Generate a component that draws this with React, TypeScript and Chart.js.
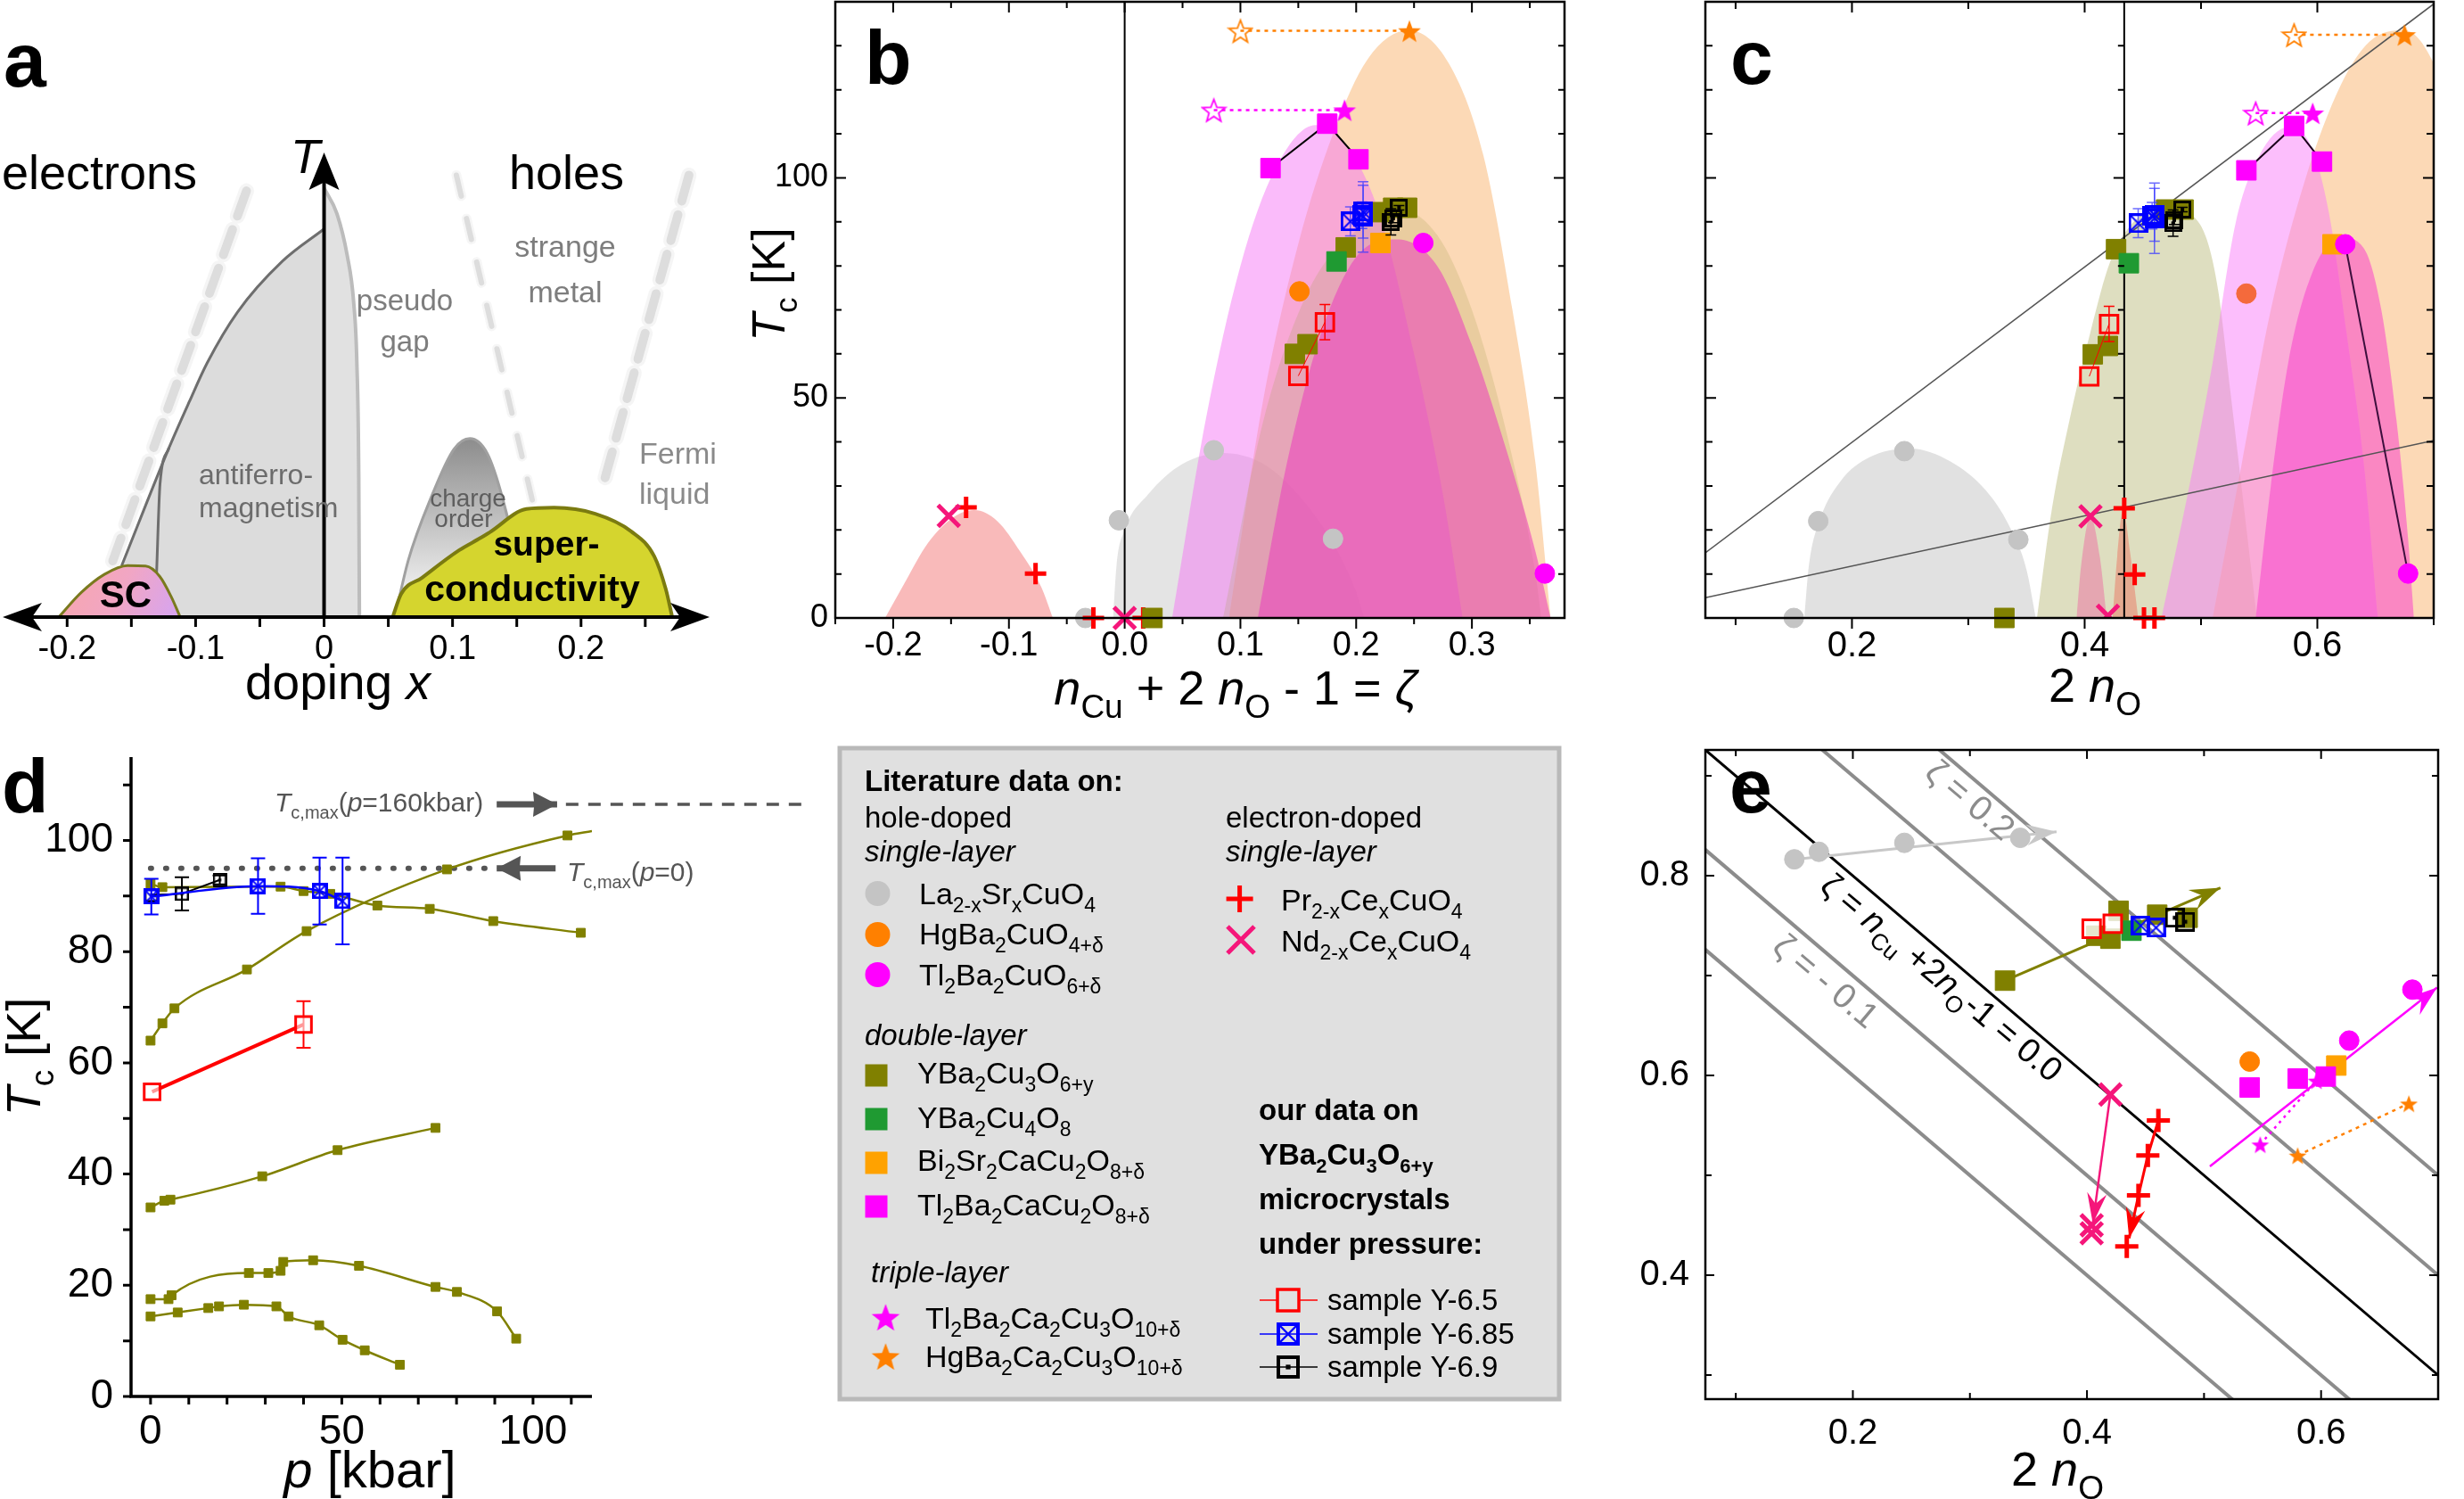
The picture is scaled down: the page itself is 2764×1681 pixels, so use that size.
import React, { useEffect, useRef } from "react";
import { Chart, registerables } from "chart.js";

Chart.register(...registerables);

const FONT = '"Liberation Sans", Arial, Helvetica, sans-serif';

/* ---------------- colours ---------------- */
const OLIVE = "#808000";
const GREEN = "#1f9a32";
const ORANGE = "#ff8000";
const ORANGE_SQ = "#ffa200";
const MAGENTA = "#ff00ff";
const LGRAY = "#c4c4c4";
const RED = "#ff0000";
const PINK = "#f5167a";
const BLUE = "#0000ff";
const DARK = "#555555";

/* ---------------- panel a : schematic (doping x, T arb.) ---------------- */
const A_AFM = [[-0.1575, 0.111], [-0.1207, 0.365], [-0.1048, 0.465], [-0.091, 0.548], [-0.0673, 0.658], [-0.0326, 0.767], [0, 0.837]];
const A_AFM_INNER = [[-0.1305, 0.085], [-0.1277, 0.287], [-0.1207, 0.365]];
const A_PSEUDOGAP = [[0, 0.925], [0.01, 0.87], [0.018, 0.78], [0.023, 0.68], [0.0255, 0.55], [0.027, 0.3], [0.0275, 0]];
const A_SC_ELECTRON = [[-0.2065, 0], [-0.189, 0.053], [-0.171, 0.092], [-0.153, 0.111], [-0.139, 0.11], [-0.128, 0.088], [-0.119, 0.044], [-0.112, 0]];
const A_CHARGE_ORDER = [[0.0551, 0], [0.0656, 0.123], [0.083, 0.256], [0.101, 0.362], [0.1135, 0.385], [0.127, 0.353], [0.139, 0.256], [0.15, 0.123], [0.157, 0]];
const A_SC_HOLE = [[0.0534, 0], [0.06, 0.05], [0.0763, 0.085], [0.105, 0.144], [0.122, 0.171], [0.129, 0.183], [0.1575, 0.233], [0.179, 0.236], [0.211, 0.223], [0.239, 0.185], [0.257, 0.131], [0.266, 0.06], [0.271, 0]];
const A_CROSS_LEFT = [[-0.0604, 0.919], [-0.1645, 0.121]];
const A_CROSS_MID = [[0.103, 0.953], [0.1625, 0.247]];
const A_CROSS_RIGHT = [[0.284, 0.953], [0.2187, 0.3]];
const A_TICKS = [-0.2, -0.15, -0.1, -0.05, 0, 0.05, 0.1, 0.15, 0.2, 0.25];

/* ---------------- panel b : Tc vs zeta ---------------- */
const B_DOME_E = [[-0.207, 0], [-0.19, 8], [-0.17, 17], [-0.15, 22.5], [-0.13, 24.5], [-0.11, 22], [-0.09, 15], [-0.072, 7], [-0.062, 0]];
const B_DOME_LSCO = [[-0.01, 0], [-0.007, 12], [0.0, 20], [0.02, 28], [0.05, 35], [0.085, 37.5], [0.12, 35], [0.15, 28], [0.18, 17], [0.2, 6], [0.207, 0]];
const B_DOME_HG = [[0.09, 0], [0.12, 50], [0.15, 85], [0.18, 110], [0.21, 127], [0.245, 133.5], [0.28, 126], [0.31, 105], [0.335, 70], [0.355, 35], [0.368, 0]];
const B_DOME_TL2212 = [[0.041, 0], [0.07, 45], [0.1, 80], [0.13, 102], [0.165, 112], [0.19, 108], [0.22, 92], [0.25, 60], [0.275, 28], [0.292, 0]];
const B_DOME_YBCO = [[0.085, 0], [0.12, 45], [0.16, 75], [0.2, 88], [0.235, 93], [0.27, 87], [0.3, 70], [0.33, 42], [0.355, 10], [0.36, 0]];
const B_DOME_TL2201 = [[0.115, 0], [0.14, 35], [0.17, 65], [0.2, 82], [0.235, 86], [0.27, 80], [0.3, 62], [0.33, 38], [0.355, 15], [0.368, 0]];

const B_PCCO = [[-0.137, 25.1], [-0.077, 10.1], [-0.027, 0], [0.016, 0]];
const B_NCCO = [[-0.152, 23.2], [0.0, 0]];
const B_LSCO = [[-0.034, 0], [-0.005, 22.2], [0.077, 38.1], [0.18, 18]];
const B_YBCO = [[0.024, 0], [0.147, 60], [0.158, 62.2], [0.191, 84.2], [0.22, 92.2], [0.232, 93.2], [0.244, 93.2]];
const B_Y124 = [[0.183, 81]];
const B_BI2212 = [[0.221, 85.2]];
const B_HG1201 = [[0.151, 74.2]];
const B_TL2201 = [[0.258, 85.2], [0.363, 10.1]];
const B_TL2212 = [[0.126, 102.2], [0.175, 112.3], [0.202, 104.2]];
const B_TL2223_AMB = [[0.077, 115.4]];
const B_TL2223 = [[0.19, 115.4]];
const B_HG1223_AMB = [[0.1, 133.4]];
const B_HG1223 = [[0.246, 133.4]];
const B_Y65 = [[0.15, 55], [0.173, 67.2]];
const B_Y65_ERR = [0, 4];
const B_Y685 = [[0.195, 90.1], [0.205, 91.5], [0.206, 92.3], [0.206, 91.1]];
const B_Y685_ERR = [3.3, 3, 6, 8];
const B_Y69 = [[0.23, 90], [0.232, 90.8], [0.237, 93.2]];
const B_Y69_ERR = [3, 1, 0.5];

/* ---------------- panel c : Tc vs 2 nO ---------------- */
const C_DOME_LSCO = [[0.159, 0], [0.163, 12], [0.172, 22], [0.19, 31], [0.215, 36.5], [0.25, 38.5], [0.285, 35.5], [0.315, 29], [0.335, 21], [0.35, 11], [0.358, 0]];
const C_DOME_YBCO = [[0.359, 0], [0.372, 25], [0.387, 45], [0.405, 65], [0.422, 81], [0.444, 90.5], [0.47, 93.5], [0.49, 92], [0.505, 86], [0.515, 74], [0.525, 52], [0.537, 25], [0.548, 0]];
const C_DOME_NCCO = [[0.393, 0], [0.397, 12], [0.405, 23], [0.413, 14], [0.419, 0]];
const C_DOME_PCCO = [[0.424, 0], [0.428, 14], [0.433, 24.5], [0.439, 15], [0.446, 0]];
const C_DOME_HG = [[0.51, 0], [0.535, 35], [0.56, 70], [0.59, 100], [0.62, 121], [0.645, 131], [0.675, 133.5], [0.7, 126], [0.72, 110]];
const C_DOME_TL2212 = [[0.466, 0], [0.49, 30], [0.51, 58], [0.53, 90], [0.55, 105], [0.575, 111.5], [0.595, 107], [0.61, 92], [0.625, 65], [0.64, 35], [0.652, 0]];
const C_DOME_TL2201 = [[0.547, 0], [0.56, 30], [0.575, 58], [0.595, 78], [0.62, 86.5], [0.64, 84], [0.655, 70], [0.668, 45], [0.678, 18], [0.683, 0]];
const C_GUIDE_UPPER = [[0.074, 14.8], [0.7, 139.5]];
const C_GUIDE_LOWER = [[0.074, 4.6], [0.7, 40.3]];
const C_ZETA0 = 0.434;

const C_LSCO = [[0.15, 0], [0.171, 22], [0.245, 37.9], [0.343, 17.8]];
const C_YBCO = [[0.331, 0], [0.407, 59.9], [0.42, 61.8], [0.427, 83.8], [0.47, 92.8], [0.485, 92.8]];
const C_Y124 = [[0.438, 80.6]];
const C_Y65 = [[0.404, 54.9], [0.421, 66.8]];
const C_Y65_ERR = [0, 4];
const C_Y685 = [[0.446, 89.7], [0.458, 91.4], [0.46, 91.6], [0.46, 90.8]];
const C_Y685_ERR = [3.3, 3, 6, 8];
const C_Y69 = [[0.476, 89.7], [0.477, 90.4], [0.484, 92.8]];
const C_Y69_ERR = [3, 1, 0.5];
const C_NCCO = [[0.405, 23.1], [0.42, 0.5]];
const C_PCCO = [[0.434, 24.9], [0.443, 9.9], [0.451, 0], [0.46, 0]];
const C_HG1201 = [[0.539, 73.7]];
const C_BI2212 = [[0.613, 84.9]];
const C_TL2201 = [[0.624, 84.9], [0.678, 10.1]];
const C_TL2212 = [[0.539, 101.7], [0.58, 111.8], [0.604, 103.7]];
const C_TL2223_AMB = [[0.547, 114.7]];
const C_TL2223 = [[0.596, 114.7]];
const C_HG1223_AMB = [[0.58, 132.5]];
const C_HG1223 = [[0.675, 132.5]];

/* ---------------- panel d : Tc vs pressure ---------------- */
const D_S1 = [[0, 92.2], [3.1, 91.6], [34, 91.7], [40, 90.9], [47, 90.4], [59.3, 88.3], [73, 87.7], [89.6, 85.5], [112.5, 83.4]];
const D_S2 = [[0, 64], [3.1, 67.1], [6.25, 69.8], [25.2, 76.8], [40.8, 83.7], [77.5, 94.8], [109, 100.9], [115.4, 101.7]];
const D_S3 = [[0, 34], [3.6, 35.2], [5.2, 35.4], [29.2, 39.6], [48.9, 44.3], [74.5, 48.3]];
const D_S4 = [[0, 17.5], [4.7, 17.5], [5.5, 18.2], [25.7, 22.2], [30.8, 22.2], [34, 22.6], [34.7, 24.2], [42.5, 24.5], [54.5, 23.5], [74.5, 19.7], [80.1, 18.8], [90.6, 15.3], [95.6, 10.4]];
const D_S5 = [[0, 14.4], [7.1, 15.1], [15.1, 15.9], [17.9, 16.2], [24.4, 16.5], [32.9, 16.2], [36.1, 14.4], [44.1, 12.8], [50.2, 10.2], [56, 8.3], [65.2, 5.7]];
const D_Y65 = [[0.4, 54.8], [40, 66.9]];
const D_Y65_ERR = [0, 4.2];
const D_Y685 = [[0.2, 89.9], [28.1, 91.8], [44.2, 90.9], [50.2, 89.1]];
const D_Y685_ERR = [3.2, 5, 6, 7.8];
const D_Y69 = [[0.2, 90.2], [8.2, 90.4], [18.1, 92.9]];
const D_Y69_ERR = [0, 3, 0.8];
const D_TCMAX_P0 = [[0, 95], [90, 95]];
const D_TCMAX_160 = [[108.6, 106.5], [171.6, 106.5]];
const D_ARROW_160 = [[90.5, 106.5], [106.3, 106.5]];
const D_ARROW_P0 = [[105.9, 95], [90.5, 95]];

/* ---------------- panel e : nCu vs 2 nO ---------------- */
const E_ZETA_M02 = [[0.05, 0.75], [0.75, 0.05]];
const E_ZETA_M01 = [[0.05, 0.85], [0.75, 0.15]];
const E_ZETA_0 = [[0.05, 0.95], [0.75, 0.25]];
const E_ZETA_P01 = [[0.05, 1.05], [0.75, 0.35]];
const E_ZETA_P02 = [[0.05, 1.15], [0.75, 0.45]];
const E_LSCO = [[0.15, 0.8165], [0.171, 0.824], [0.244, 0.833], [0.343, 0.838]];
const E_LSCO_ARROW = [[0.15, 0.8165], [0.374, 0.844]];
const E_YBCO = [[0.33, 0.695], [0.408, 0.74], [0.42, 0.737], [0.427, 0.765], [0.46, 0.761], [0.486, 0.758]];
const E_YBCO_ARROW = [[0.33, 0.695], [0.514, 0.788]];
const E_Y124 = [[0.438, 0.745]];
const E_Y65 = [[0.404, 0.747], [0.422, 0.752]];
const E_Y685 = [[0.446, 0.75], [0.459, 0.748]];
const E_Y69 = [[0.475, 0.758], [0.484, 0.754]];
const E_HG1201 = [[0.539, 0.614]];
const E_BI2212 = [[0.613, 0.61]];
const E_TL2201 = [[0.624, 0.635], [0.678, 0.686]];
const E_TL2212 = [[0.539, 0.588], [0.58, 0.597], [0.604, 0.599]];
const E_TL_ARROW = [[0.505, 0.509], [0.699, 0.688]];
const E_TL2223 = [[0.548, 0.531], [0.596, 0.595]];
const E_HG1223 = [[0.58, 0.52], [0.675, 0.572]];
const E_NCCO = [[0.42, 0.581], [0.404, 0.45], [0.404, 0.442]];
const E_NCCO_ARROW = [[0.42, 0.581], [0.405, 0.452]];
const E_PCCO = [[0.461, 0.555], [0.452, 0.52], [0.444, 0.48], [0.434, 0.429]];
const E_PCCO_ARROW = [[0.461, 0.555], [0.452, 0.52], [0.444, 0.48], [0.436, 0.437]];

/* ---------------- helpers ---------------- */
type Seg = { t: string; i?: boolean; b?: boolean; sub?: boolean };
type TextItem = { x: number; y: number; s: string | Seg[]; size: number; color?: string; align?: "left" | "center" | "right"; rot?: number; bold?: boolean; italic?: boolean };
const it = (t: string): Seg => ({ t, i: true });
const sb = (t: string): Seg => ({ t, sub: true });
const tx = (t: string): Seg => ({ t });

function drawRich(ctx: CanvasRenderingContext2D, item: TextItem, ox: number, oy: number) {
  const segs: Seg[] = typeof item.s === "string" ? [{ t: item.s }] : item.s;
  const fontOf = (sg: Seg) => {
    const sz = sg.sub ? Math.round(item.size * 0.68) : item.size;
    return `${sg.i || item.italic ? "italic " : ""}${sg.b || item.bold ? "bold " : ""}${sz}px ${FONT}`;
  };
  ctx.save();
  ctx.translate(item.x - ox, item.y - oy);
  if (item.rot) ctx.rotate((item.rot * Math.PI) / 180);
  let total = 0;
  const ws = segs.map((sg) => {
    ctx.font = fontOf(sg);
    const w = ctx.measureText(sg.t).width;
    total += w;
    return w;
  });
  let x = item.align === "center" ? -total / 2 : item.align === "right" ? -total : 0;
  ctx.fillStyle = item.color || "#000";
  ctx.textBaseline = "alphabetic";
  ctx.textAlign = "left";
  segs.forEach((sg, k) => {
    ctx.font = fontOf(sg);
    ctx.fillText(sg.t, x, sg.sub ? item.size * 0.27 : 0);
    x += ws[k];
  });
  ctx.restore();
}

function arrowHead(ctx: CanvasRenderingContext2D, x1: number, y1: number, x2: number, y2: number, len: number, half: number, color: string, notch = 0.25) {
  const a = Math.atan2(y2 - y1, x2 - x1);
  ctx.save();
  ctx.translate(x2, y2);
  ctx.rotate(a);
  ctx.beginPath();
  ctx.moveTo(0, 0);
  ctx.lineTo(-len, -half);
  ctx.lineTo(-len * (1 - notch), 0);
  ctx.lineTo(-len, half);
  ctx.closePath();
  ctx.fillStyle = color;
  ctx.fill();
  ctx.restore();
}

function mkImg(w: number, h: number, f: (g: CanvasRenderingContext2D) => void) {
  const c = document.createElement("canvas");
  c.width = w;
  c.height = h;
  f(c.getContext("2d") as CanvasRenderingContext2D);
  return c;
}
function starPath(g: CanvasRenderingContext2D, cx: number, cy: number, R: number) {
  const r = R * 0.42;
  g.beginPath();
  for (let k = 0; k < 10; k++) {
    const a = -Math.PI / 2 + (k * Math.PI) / 5;
    const rr = k % 2 === 0 ? R : r;
    const px = cx + rr * Math.cos(a);
    const py = cy + rr * Math.sin(a);
    if (k === 0) g.moveTo(px, py);
    else g.lineTo(px, py);
  }
  g.closePath();
}
const starImg = (color: string, size: number, filled: boolean) =>
  mkImg(size, size, (g) => {
    starPath(g, size / 2, size / 2 + size * 0.05, size / 2 - 1.5);
    if (filled) {
      g.fillStyle = color;
      g.fill();
    } else {
      g.strokeStyle = color;
      g.lineWidth = 1.8;
      g.stroke();
    }
  });
const boxXImg = (color: string, size: number, lw: number) =>
  mkImg(size, size, (g) => {
    g.strokeStyle = color;
    g.lineWidth = lw;
    g.strokeRect(lw / 2, lw / 2, size - lw, size - lw);
    g.lineWidth = Math.max(1.5, lw * 0.6);
    g.beginPath();
    g.moveTo(lw, lw);
    g.lineTo(size - lw, size - lw);
    g.moveTo(size - lw, lw);
    g.lineTo(lw, size - lw);
    g.stroke();
  });
const boxDotImg = (color: string, size: number, lw: number) =>
  mkImg(size, size, (g) => {
    g.strokeStyle = color;
    g.lineWidth = lw;
    g.strokeRect(lw / 2, lw / 2, size - lw, size - lw);
    const d = Math.max(3, size * 0.2);
    g.fillStyle = color;
    g.fillRect(size / 2 - d / 2, size / 2 - d / 2, d, d);
  });

const P = (a: number[][]) => a.map(([x, y]) => ({ x, y }));
function dome(a: number[][], bg: any, extra: any = {}) {
  return { data: P(a), showLine: true, fill: "origin", backgroundColor: bg, borderColor: "rgba(0,0,0,0)", borderWidth: 0, pointRadius: 0, cubicInterpolationMode: "monotone", ...extra };
}
function ln(a: number[][], color: string, w: number, extra: any = {}) {
  return { data: P(a), showLine: true, fill: false, borderColor: color, backgroundColor: color, borderWidth: w, pointRadius: 0, tension: 0, ...extra };
}
function mk(a: number[][], style: any, color: string, r: number, extra: any = {}) {
  return { data: P(a), showLine: false, fill: false, pointStyle: style, pointRadius: r, pointBackgroundColor: color, pointBorderColor: color, pointBorderWidth: 1, borderColor: color, clip: false, ...extra };
}

type TickCfg = { xMinor: number; xMajor: number; yMinor: number; yMajor: number; sides: string[]; inward: boolean; bottomOut?: boolean; majLen: number; minLen: number; lw: number };

function drawTicks(chart: any, t: TickCfg) {
  const { ctx, chartArea: a } = chart;
  const xs = chart.scales.x;
  const ys = chart.scales.y;
  ctx.save();
  ctx.strokeStyle = "#000";
  ctx.lineWidth = t.lw;
  ctx.beginPath();
  const dir = t.inward ? 1 : -1;
  const each = (min: number, max: number, minor: number, major: number, fn: (v: number, L: number) => void) => {
    const k0 = Math.ceil(min / minor - 1e-9);
    const k1 = Math.floor(max / minor + 1e-9);
    for (let k = k0; k <= k1; k++) {
      const v = k * minor;
      const r = v / major;
      fn(v, Math.abs(r - Math.round(r)) < 1e-6 ? t.majLen : t.minLen);
    }
  };
  each(xs.min, xs.max, t.xMinor, t.xMajor, (v, L) => {
    const px = xs.getPixelForValue(v);
    if (t.sides.includes("bottom")) {
      const d = t.bottomOut ? -1 : dir;
      ctx.moveTo(px, a.bottom);
      ctx.lineTo(px, a.bottom - d * L);
    }
    if (t.sides.includes("top")) {
      ctx.moveTo(px, a.top);
      ctx.lineTo(px, a.top + dir * L);
    }
  });
  each(ys.min, ys.max, t.yMinor, t.yMajor, (v, L) => {
    const py = ys.getPixelForValue(v);
    if (t.sides.includes("left")) {
      ctx.moveTo(a.left, py);
      ctx.lineTo(a.left + dir * L, py);
    }
    if (t.sides.includes("right")) {
      ctx.moveTo(a.right, py);
      ctx.lineTo(a.right - dir * L, py);
    }
  });
  ctx.stroke();
  ctx.restore();
}

function extras(o: { ox: number; oy: number; ticks?: TickCfg; frame?: string; frameW?: number; texts?: TextItem[]; custom?: (chart: any) => void }) {
  return {
    id: "extras",
    beforeDatasetDraw(chart: any, args: any) {
      const ds: any = chart.data.datasets[args.index];
      if (!ds.errorBars) return;
      const meta = chart.getDatasetMeta(args.index);
      const ys = chart.scales.y;
      const ctx = chart.ctx;
      ctx.save();
      ctx.strokeStyle = ds.errorColor || ds.pointBorderColor;
      ctx.lineWidth = ds.errorWidth || 1.5;
      meta.data.forEach((el: any, k: number) => {
        const e = ds.errorBars[k];
        if (!e) return;
        const v = ds.data[k].y;
        const y1 = ys.getPixelForValue(v + e);
        const y2 = ys.getPixelForValue(v - e);
        const x = el.x;
        const cw = ds.errorCap || 6;
        ctx.beginPath();
        ctx.moveTo(x, y1);
        ctx.lineTo(x, y2);
        ctx.moveTo(x - cw, y1);
        ctx.lineTo(x + cw, y1);
        ctx.moveTo(x - cw, y2);
        ctx.lineTo(x + cw, y2);
        ctx.stroke();
      });
      ctx.restore();
    },
    afterDatasetDraw(chart: any, args: any) {
      const ds: any = chart.data.datasets[args.index];
      if (!ds.arrowHead) return;
      const pts = chart.getDatasetMeta(args.index).data;
      const n = pts.length;
      if (n < 2) return;
      arrowHead(chart.ctx, pts[n - 2].x, pts[n - 2].y, pts[n - 1].x, pts[n - 1].y, ds.arrowHead[0], ds.arrowHead[1], ds.borderColor, ds.arrowHead[2] ?? 0.25);
    },
    afterDraw(chart: any) {
      const { ctx, chartArea: a } = chart;
      if (o.frame) {
        ctx.save();
        ctx.strokeStyle = "#000";
        ctx.lineWidth = o.frameW || 2;
        if (o.frame === "box") ctx.strokeRect(a.left, a.top, a.right - a.left, a.bottom - a.top);
        if (o.frame === "LB") {
          ctx.beginPath();
          ctx.moveTo(a.left, a.top);
          ctx.lineTo(a.left, a.bottom);
          ctx.lineTo(a.right, a.bottom);
          ctx.stroke();
        }
        ctx.restore();
      }
      if (o.ticks) drawTicks(chart, o.ticks);
      if (o.custom) o.custom(chart);
      (o.texts || []).forEach((t) => drawRich(ctx, t, o.ox, o.oy));
    },
  };
}

function axis(o: { min: number; max: number; step: number; fmt: (v: number) => string; size: number; pad: number; show: boolean; fit: number; dir: "x" | "y"; display?: boolean }) {
  return {
    type: "linear",
    display: o.display !== false,
    min: o.min,
    max: o.max,
    position: o.dir === "x" ? "bottom" : "left",
    grid: { display: false, drawTicks: false },
    border: { display: false },
    ticks: {
      display: o.show,
      stepSize: o.step,
      includeBounds: false,
      autoSkip: false,
      maxRotation: 0,
      minRotation: 0,
      padding: o.pad,
      color: "#000",
      font: { family: FONT, size: o.size },
      callback: (v: any) => o.fmt(Number(v)),
    },
    afterFit: (s: any) => {
      if (o.dir === "x") s.height = o.fit;
      else s.width = o.fit;
      s.paddingTop = 0;
      s.paddingBottom = 0;
      s.paddingLeft = 0;
      s.paddingRight = 0;
    },
  };
}

function makeConfig(o: { pad: any; x: any; y: any; datasets: any[]; plugin: any }) {
  const n = o.datasets.length;
  return {
    type: "line",
    data: { datasets: o.datasets.map((d, i) => ({ ...d, order: n - i })) },
    options: {
      animation: false,
      responsive: false,
      maintainAspectRatio: false,
      devicePixelRatio: 1,
      events: [],
      layout: { padding: o.pad, autoPadding: false },
      plugins: { legend: { display: false }, tooltip: { enabled: false }, title: { display: false } },
      scales: { x: o.x, y: o.y },
    },
    plugins: [o.plugin],
  } as any;
}

const f1 = (v: number) => v.toFixed(1);
const fInt = (v: number) => String(Math.round(v));
const tcTitle: Seg[] = [it("T"), sb("c"), tx(" [K]")];

/* ---------------- panel builders ---------------- */
function buildA() {
  const ox = 0, oy = 0;
  const scElectronGrad = (c: any) => {
    const { ctx, chartArea, scales } = c.chart;
    if (!chartArea) return "#f0a8c0";
    const g = ctx.createLinearGradient(scales.x.getPixelForValue(-0.2), scales.y.getPixelForValue(0.11), scales.x.getPixelForValue(-0.115), scales.y.getPixelForValue(0));
    g.addColorStop(0, "#f8a6ae");
    g.addColorStop(0.5, "#f1a6c4");
    g.addColorStop(1, "#d6a4f0");
    return g;
  };
  const chargeGrad = (c: any) => {
    const { ctx, chartArea, scales } = c.chart;
    if (!chartArea) return "#c0c0c0";
    const g = ctx.createLinearGradient(0, scales.y.getPixelForValue(0.38), 0, scales.y.getPixelForValue(0));
    g.addColorStop(0, "#8e8e8e");
    g.addColorStop(1, "#ffffff");
    return g;
  };
  const dash = (a: number[][], w: number, col: string, d: number[]) => ln(a, col, w, { borderDash: d, borderCapStyle: "round" });
  const datasets = [
    dash(A_CROSS_LEFT, 17, "rgba(225,225,225,0.35)", [30, 16]),
    dash(A_CROSS_LEFT, 10, "rgba(212,212,212,0.75)", [30, 16]),
    dash(A_CROSS_MID, 11, "rgba(228,228,228,0.35)", [24, 26]),
    dash(A_CROSS_MID, 6, "rgba(215,215,215,0.8)", [24, 26]),
    dash(A_CROSS_RIGHT, 17, "rgba(225,225,225,0.35)", [30, 16]),
    dash(A_CROSS_RIGHT, 10, "rgba(212,212,212,0.75)", [30, 16]),
    dome(A_AFM, "#dcdcdc", { borderColor: "#6e6e6e", borderWidth: 3 }),
    dome(A_PSEUDOGAP, "rgba(195,195,195,0.5)", { borderColor: "#bcbcbc", borderWidth: 4 }),
    ln(A_AFM_INNER, "#6e6e6e", 3, { cubicInterpolationMode: "monotone" }),
    dome(A_CHARGE_ORDER, chargeGrad, { borderColor: "#a0a0a0", borderWidth: 3 }),
    dome(A_SC_ELECTRON, scElectronGrad, { borderColor: "#7a7a1e", borderWidth: 3 }),
    dome(A_SC_HOLE, "#d5d52e", { borderColor: "#7b7b10", borderWidth: 4 }),
  ];
  const custom = (chart: any) => {
    const { ctx, chartArea: a } = chart;
    const xs = chart.scales.x, ys = chart.scales.y;
    const y0 = ys.getPixelForValue(0);
    const x0 = xs.getPixelForValue(0);
    ctx.save();
    ctx.strokeStyle = "#000";
    ctx.lineWidth = 4;
    ctx.beginPath();
    ctx.moveTo(a.left + 20, y0);
    ctx.lineTo(a.right - 20, y0);
    ctx.stroke();
    ctx.lineWidth = 3;
    ctx.beginPath();
    A_TICKS.forEach((v) => {
      const px = xs.getPixelForValue(v);
      ctx.moveTo(px, y0);
      ctx.lineTo(px, y0 + 11);
    });
    ctx.stroke();
    arrowHead(ctx, a.right - 60, y0, a.right + 3, y0, 44, 16, "#000", 0.25);
    arrowHead(ctx, a.left + 60, y0, a.left - 6, y0, 44, 16, "#000", 0.25);
    const yTop = ys.getPixelForValue(1.002);
    ctx.lineWidth = 4;
    ctx.beginPath();
    ctx.moveTo(x0, y0);
    ctx.lineTo(x0, yTop + 20);
    ctx.stroke();
    arrowHead(ctx, x0, y0, x0, yTop, 42, 17, "#000", 0.2);
    ctx.restore();
  };
  const G1 = "#7d7d7d", G2 = "#6c6c6c";
  const texts: TextItem[] = [
    { x: 4, y: 97, s: "a", size: 86, bold: true },
    { x: 2, y: 212, s: "electrons", size: 54 },
    { x: 571, y: 212, s: "holes", size: 54 },
    { x: 326, y: 194, s: [it("T")], size: 54 },
    { x: 454, y: 348, s: "pseudo", size: 33, align: "center", color: G1 },
    { x: 454, y: 394, s: "gap", size: 33, align: "center", color: G1 },
    { x: 634, y: 288, s: "strange", size: 34, align: "center", color: G1 },
    { x: 634, y: 339, s: "metal", size: 34, align: "center", color: G1 },
    { x: 223, y: 543, s: "antiferro-", size: 32, color: G2 },
    { x: 223, y: 580, s: "magnetism", size: 32, color: G2 },
    { x: 525, y: 568, s: "charge", size: 28, align: "center", color: "#5e5e5e" },
    { x: 520, y: 591, s: "order", size: 28, align: "center", color: "#5e5e5e" },
    { x: 613, y: 623, s: "super-", size: 39, bold: true, align: "center" },
    { x: 597, y: 674, s: "conductivity", size: 41, bold: true, align: "center" },
    { x: 141, y: 681, s: "SC", size: 42, bold: true, align: "center" },
    { x: 717, y: 520, s: "Fermi", size: 34, color: "#8a8a8a" },
    { x: 717, y: 565, s: "liquid", size: 34, color: "#8a8a8a" },
    { x: 379, y: 784, s: [tx("doping "), it("x")], size: 55, align: "center" },
  ];
  return makeConfig({
    pad: { left: 9, right: 37, top: 130, bottom: 0 },
    x: axis({ min: -0.246, max: 0.298, step: 0.05, fmt: (v) => (Math.abs(v * 10 - Math.round(v * 10)) < 1e-6 ? (Math.abs(v) < 1e-9 ? "0" : String(+v.toFixed(1))) : ""), size: 38, pad: 14, show: true, fit: 108, dir: "x" }),
    y: { type: "linear", display: false, min: 0, max: 1.0808 },
    datasets,
    plugin: extras({ ox, oy, texts, custom }),
  });
}

function buildB() {
  const ox = 840, oy = 0;
  const sO = starImg(ORANGE, 30, true), sOo = starImg(ORANGE, 30, false);
  const sM = starImg(MAGENTA, 30, true), sMo = starImg(MAGENTA, 30, false);
  const bx = boxXImg(BLUE, 22, 3), bd = boxDotImg("#000", 20, 3);
  const datasets = [
    dome(B_DOME_LSCO, "rgba(205,205,205,0.55)"),
    dome(B_DOME_E, "rgba(245,140,140,0.6)"),
    dome(B_DOME_HG, "rgba(250,180,110,0.5)"),
    dome(B_DOME_TL2212, "rgba(245,120,245,0.5)"),
    dome(B_DOME_YBCO, "rgba(170,160,80,0.22)"),
    dome(B_DOME_TL2201, "rgba(235,60,190,0.55)"),
    ln([[0, 0], [0, 140]], "#000", 2),
    ln([...B_HG1223_AMB, ...B_HG1223], ORANGE, 2.5, { borderDash: [4, 5] }),
    ln([...B_TL2223_AMB, ...B_TL2223], MAGENTA, 2.5, { borderDash: [4, 5] }),
    mk(B_LSCO, "circle", LGRAY, 11),
    mk(B_PCCO, "cross", RED, 12, { pointBorderWidth: 5 }),
    mk(B_NCCO, "crossRot", PINK, 17, { pointBorderWidth: 5 }),
    mk(B_YBCO, "rect", OLIVE, 15.5),
    mk(B_Y124, "rect", GREEN, 15.5),
    mk(B_BI2212, "rect", ORANGE_SQ, 15.5),
    mk(B_HG1201, "circle", ORANGE, 11),
    mk(B_TL2201, "circle", MAGENTA, 11),
    mk(B_TL2212, "rect", MAGENTA, 15.5, { showLine: true, borderColor: "#000", borderWidth: 2 }),
    mk(B_TL2223_AMB, sMo, MAGENTA, 15),
    mk(B_TL2223, sM, MAGENTA, 15),
    mk(B_HG1223_AMB, sOo, ORANGE, 15),
    mk(B_HG1223, sO, ORANGE, 15),
    mk(B_Y65, "rect", RED, 14, { pointBackgroundColor: "rgba(0,0,0,0)", pointBorderWidth: 3, showLine: true, borderColor: RED, borderWidth: 1, errorBars: B_Y65_ERR }),
    mk(B_Y685, bx, BLUE, 11, { showLine: true, borderColor: BLUE, borderWidth: 1, errorBars: B_Y685_ERR, errorColor: "rgba(60,60,255,0.75)" }),
    mk(B_Y69, bd, "#000", 10, { showLine: true, borderColor: "#000", borderWidth: 1, errorBars: B_Y69_ERR }),
  ];
  const texts: TextItem[] = [
    { x: 970, y: 94, s: "b", size: 86, bold: true },
    { x: 880, y: 319, s: tcTitle, size: 52, rot: -90, align: "center" },
    { x: 1386, y: 790, s: [it("n"), sb("Cu"), tx(" + 2 "), it("n"), sb("O"), tx(" - 1 = "), it("ζ")], size: 54, align: "center" },
  ];
  return makeConfig({
    pad: { left: 0, right: 35, top: 2, bottom: 0 },
    x: axis({ min: -0.25, max: 0.38, step: 0.1, fmt: f1, size: 38, pad: 9, show: true, fit: 137, dir: "x" }),
    y: axis({ min: 0, max: 140, step: 50, fmt: fInt, size: 36, pad: 8, show: true, fit: 97, dir: "y" }),
    datasets,
    plugin: extras({ ox, oy, texts, frame: "box", frameW: 2.5, ticks: { xMinor: 0.05, xMajor: 0.1, yMinor: 10, yMajor: 50, sides: ["bottom", "top", "left", "right"], inward: true, bottomOut: true, majLen: 12, minLen: 7, lw: 2 } }),
  });
}

function buildC() {
  const ox = 1860, oy = 0;
  const sO = starImg(ORANGE, 30, true), sOo = starImg(ORANGE, 30, false);
  const sM = starImg(MAGENTA, 30, true), sMo = starImg(MAGENTA, 30, false);
  const bx = boxXImg(BLUE, 22, 3), bd = boxDotImg("#000", 20, 3);
  const datasets = [
    dome(C_DOME_LSCO, "rgba(205,205,205,0.6)"),
    dome(C_DOME_YBCO, "rgba(190,190,130,0.5)"),
    dome(C_DOME_NCCO, "rgba(235,120,165,0.55)"),
    dome(C_DOME_PCCO, "rgba(235,120,100,0.5)"),
    dome(C_DOME_HG, "rgba(250,180,110,0.5)"),
    dome(C_DOME_TL2212, "rgba(250,125,250,0.5)"),
    dome(C_DOME_TL2201, "rgba(250,70,205,0.55)"),
    ln(C_GUIDE_UPPER, "#555", 1.5),
    ln(C_GUIDE_LOWER, "#555", 1.5),
    ln([[C_ZETA0, 0], [C_ZETA0, 140]], "#000", 2),
    ln([...C_HG1223_AMB, ...C_HG1223], ORANGE, 2.5, { borderDash: [4, 5] }),
    ln([...C_TL2223_AMB, ...C_TL2223], MAGENTA, 2.5, { borderDash: [4, 5] }),
    mk(C_LSCO, "circle", LGRAY, 11),
    mk(C_PCCO, "cross", RED, 12, { pointBorderWidth: 5 }),
    mk(C_NCCO, "crossRot", PINK, 17, { pointBorderWidth: 5, clip: undefined }),
    mk(C_YBCO, "rect", OLIVE, 15.5),
    mk(C_Y124, "rect", GREEN, 15.5),
    mk(C_BI2212, "rect", ORANGE_SQ, 15.5),
    mk(C_HG1201, "circle", "#f46a3c", 11),
    mk(C_TL2201, "circle", MAGENTA, 11, { showLine: true, borderColor: "#3d0f3d", borderWidth: 2 }),
    mk(C_TL2212, "rect", MAGENTA, 15.5, { showLine: true, borderColor: "#1a001a", borderWidth: 2 }),
    mk(C_TL2223_AMB, sMo, MAGENTA, 15),
    mk(C_TL2223, sM, MAGENTA, 15),
    mk(C_HG1223_AMB, sOo, ORANGE, 15),
    mk(C_HG1223, sO, ORANGE, 15),
    mk(C_Y65, "rect", RED, 14, { pointBackgroundColor: "rgba(0,0,0,0)", pointBorderWidth: 3, showLine: true, borderColor: RED, borderWidth: 1, errorBars: C_Y65_ERR }),
    mk(C_Y685, bx, BLUE, 11, { showLine: true, borderColor: BLUE, borderWidth: 1, errorBars: C_Y685_ERR, errorColor: "rgba(60,60,255,0.75)" }),
    mk(C_Y69, bd, "#000", 10, { showLine: true, borderColor: "#000", borderWidth: 1, errorBars: C_Y69_ERR }),
  ];
  const custom = (chart: any) => {
    const { ctx } = chart;
    const xs = chart.scales.x, ys = chart.scales.y;
    const px = xs.getPixelForValue(C_ZETA0);
    ctx.save();
    ctx.strokeStyle = "#000";
    ctx.lineWidth = 2;
    ctx.beginPath();
    for (let v = 10; v < 140; v += 10) {
      const py = ys.getPixelForValue(v);
      ctx.moveTo(px, py);
      ctx.lineTo(px - (v % 50 === 0 ? 12 : 7), py);
    }
    ctx.stroke();
    ctx.restore();
  };
  const texts: TextItem[] = [
    { x: 1941, y: 94, s: "c", size: 86, bold: true },
    { x: 2350, y: 787, s: [tx("2 "), it("n"), sb("O")], size: 54, align: "center" },
  ];
  return makeConfig({
    pad: { left: 0, right: 34, top: 2, bottom: 0 },
    x: axis({ min: 0.074, max: 0.7, step: 0.2, fmt: f1, size: 40, pad: 8, show: true, fit: 137, dir: "x" }),
    y: axis({ min: 0, max: 140, step: 50, fmt: fInt, size: 36, pad: 8, show: false, fit: 53, dir: "y" }),
    datasets,
    plugin: extras({ ox, oy, texts, custom, frame: "box", frameW: 2.5, ticks: { xMinor: 0.1, xMajor: 0.2, yMinor: 10, yMajor: 50, sides: ["bottom", "top", "left", "right"], inward: true, bottomOut: true, majLen: 12, minLen: 8, lw: 2 } }),
  });
}

function buildD() {
  const ox = 0, oy = 830;
  const bx = boxXImg(BLUE, 18, 3), bd = boxDotImg("#000", 16, 2.5);
  const olive = (a: number[][], extra: any = {}) => mk(a, "rect", OLIVE, 7, { showLine: true, borderColor: OLIVE, borderWidth: 2.5, cubicInterpolationMode: "monotone", clip: undefined, ...extra });
  const s2r = D_S2.map((_, k) => (k === D_S2.length - 1 ? 0 : 7));
  const datasets = [
    ln(D_TCMAX_P0, DARK, 6, { borderDash: [1, 16], borderCapStyle: "round" }),
    ln(D_TCMAX_160, DARK, 3.5, { borderDash: [14, 11], clip: false }),
    ln(D_ARROW_160, DARK, 7, { clip: false, arrowHead: [27, 14, 0.05] }),
    ln(D_ARROW_P0, DARK, 7, { clip: false, arrowHead: [27, 14, 0.05] }),
    olive(D_S1),
    olive(D_S2, { pointRadius: s2r }),
    olive(D_S3),
    olive(D_S4),
    olive(D_S5),
    mk(D_Y65, "rect", RED, 12.5, { pointBackgroundColor: "rgba(255,255,255,0.6)", pointBorderWidth: 3, showLine: true, borderColor: RED, borderWidth: 4, errorBars: D_Y65_ERR, errorWidth: 2, errorCap: 8 }),
    mk(D_Y69, bd, "#000", 8, { showLine: true, borderColor: "#000", borderWidth: 2, errorBars: D_Y69_ERR, errorWidth: 2, errorCap: 8 }),
    mk(D_Y685, bx, BLUE, 9, { showLine: true, borderColor: BLUE, borderWidth: 2.5, cubicInterpolationMode: "monotone", errorBars: D_Y685_ERR, errorWidth: 2, errorCap: 8 }),
  ];
  const texts: TextItem[] = [
    { x: 2, y: 911, s: "d", size: 86, bold: true },
    { x: 45, y: 1185, s: tcTitle, size: 54, rot: -90, align: "center" },
    { x: 415, y: 1668, s: [it("p"), tx(" [kbar]")], size: 58, align: "center" },
    { x: 308, y: 910, s: [it("T"), sb("c,max"), tx("("), it("p"), tx("=160kbar)")], size: 30, color: DARK },
    { x: 636, y: 988, s: [it("T"), sb("c,max"), tx("("), it("p"), tx("=0)")], size: 30, color: DARK },
  ];
  return makeConfig({
    pad: { left: 0, right: 256, top: 19, bottom: 0 },
    x: axis({ min: -5.1, max: 115.4, step: 50, fmt: fInt, size: 46, pad: 13, show: true, fit: 115, dir: "x" }),
    y: axis({ min: 0, max: 115, step: 20, fmt: fInt, size: 46, pad: 20, show: true, fit: 147, dir: "y" }),
    datasets,
    plugin: extras({ ox, oy, texts, frame: "LB", frameW: 3.5, ticks: { xMinor: 10, xMajor: 50, yMinor: 10, yMajor: 20, sides: ["bottom", "left"], inward: false, majLen: 9, minLen: 9, lw: 3 } }),
  });
}

function buildE() {
  const ox = 1830, oy = 830;
  const sO = starImg(ORANGE, 24, true);
  const sM = starImg(MAGENTA, 24, true);
  const bx = boxXImg(BLUE, 22, 3), bd = boxDotImg("#000", 22, 3);
  const ZG = "#8c8c8c";
  const datasets = [
    ln(E_ZETA_M02, ZG, 4),
    ln(E_ZETA_M01, ZG, 4),
    ln(E_ZETA_P01, ZG, 4),
    ln(E_ZETA_P02, ZG, 4),
    ln(E_ZETA_0, "#000", 3),
    ln(E_LSCO_ARROW, "#c8c8c8", 3, { arrowHead: [34, 12, 0.35] }),
    ln(E_YBCO_ARROW, OLIVE, 3, { arrowHead: [34, 12, 0.35] }),
    ln(E_TL_ARROW, MAGENTA, 2.5, { arrowHead: [34, 12, 0.35] }),
    ln(E_NCCO_ARROW, PINK, 2.5, { arrowHead: [34, 11, 0.35] }),
    ln(E_PCCO_ARROW, RED, 3, { arrowHead: [34, 11, 0.35] }),
    ln(E_TL2223, MAGENTA, 2.5, { borderDash: [3, 5] }),
    ln(E_HG1223, ORANGE, 2.5, { borderDash: [4, 5] }),
    mk(E_LSCO, "circle", LGRAY, 11),
    mk(E_YBCO, "rect", OLIVE, 15.5),
    mk(E_Y124, "rect", GREEN, 15.5),
    mk(E_Y65, "rect", RED, 14, { pointBackgroundColor: "rgba(255,255,255,0.8)", pointBorderWidth: 3 }),
    mk(E_Y685, bx, BLUE, 11),
    mk(E_Y69, bd, "#000", 11),
    mk(E_HG1201, "circle", ORANGE, 11),
    mk(E_BI2212, "rect", ORANGE_SQ, 15.5),
    mk(E_TL2201, "circle", MAGENTA, 11),
    mk(E_TL2212, "rect", MAGENTA, 15.5),
    mk(E_TL2223, sM, MAGENTA, 12),
    mk(E_HG1223, sO, ORANGE, 12),
    mk(E_NCCO, "crossRot", PINK, 17, { pointBorderWidth: 5 }),
    mk(E_PCCO, "cross", RED, 13, { pointBorderWidth: 5 }),
  ];
  const texts: TextItem[] = [
    { x: 1940, y: 911, s: "e", size: 86, bold: true },
    { x: 1812, y: 1195, s: [it("n"), sb("Cu")], size: 54, rot: -90, align: "center" },
    { x: 2308, y: 1666, s: [tx("2 "), it("n"), sb("O")], size: 54, align: "center" },
    { x: 2202, y: 907, s: "ζ = 0.2", size: 39, rot: 40, align: "center", color: "#8c8c8c" },
    { x: 2040, y: 1110, s: "ζ = - 0.1", size: 39, rot: 40, align: "center", color: "#8c8c8c" },
    { x: 2170, y: 1106, s: [tx("ζ = "), it("n"), sb("Cu"), tx(" +2"), it("n"), sb("O"), tx("-1 = 0.0")], size: 38, rot: 40, align: "center" },
  ];
  return makeConfig({
    pad: { left: 0, right: 29, top: 11, bottom: 0 },
    x: axis({ min: 0.074, max: 0.7, step: 0.2, fmt: f1, size: 40, pad: 15, show: true, fit: 112, dir: "x" }),
    y: axis({ min: 0.276, max: 0.926, step: 0.2, fmt: f1, size: 40, pad: 18, show: true, fit: 83, dir: "y" }),
    datasets,
    plugin: extras({ ox, oy, texts, frame: "box", frameW: 2.5, ticks: { xMinor: 0.1, xMajor: 0.2, yMinor: 0.1, yMajor: 0.2, sides: ["bottom", "top", "left", "right"], inward: true, majLen: 10, minLen: 7, lw: 2 } }),
  });
}

/* ---------------- legend box ---------------- */
function drawLegend(ctx: CanvasRenderingContext2D) {
  const ox = 930, oy = 830;
  ctx.fillStyle = "#e0e0e0";
  ctx.fillRect(942 - ox, 839 - oy, 1749 - 942, 1569 - 839);
  ctx.strokeStyle = "#b9b9b9";
  ctx.lineWidth = 5;
  ctx.strokeRect(942 - ox, 839 - oy, 1749 - 942, 1569 - 839);
  const F = 34, L = 33;
  const items: TextItem[] = [
    { x: 970, y: 887, s: "Literature data on:", size: L, bold: true },
    { x: 970, y: 928, s: "hole-doped", size: L },
    { x: 970, y: 966, s: "single-layer", size: L, italic: true },
    { x: 1031, y: 1014, s: [tx("La"), sb("2-x"), tx("Sr"), sb("x"), tx("CuO"), sb("4")], size: F },
    { x: 1031, y: 1059, s: [tx("HgBa"), sb("2"), tx("CuO"), sb("4+δ")], size: F },
    { x: 1031, y: 1105, s: [tx("Tl"), sb("2"), tx("Ba"), sb("2"), tx("CuO"), sb("6+δ")], size: F },
    { x: 970, y: 1172, s: "double-layer", size: L, italic: true },
    { x: 1029, y: 1215, s: [tx("YBa"), sb("2"), tx("Cu"), sb("3"), tx("O"), sb("6+y")], size: F },
    { x: 1029, y: 1265, s: [tx("YBa"), sb("2"), tx("Cu"), sb("4"), tx("O"), sb("8")], size: F },
    { x: 1029, y: 1313, s: [tx("Bi"), sb("2"), tx("Sr"), sb("2"), tx("CaCu"), sb("2"), tx("O"), sb("8+δ")], size: F },
    { x: 1029, y: 1363, s: [tx("Tl"), sb("2"), tx("Ba"), sb("2"), tx("CaCu"), sb("2"), tx("O"), sb("8+δ")], size: F },
    { x: 977, y: 1438, s: "triple-layer", size: L, italic: true },
    { x: 1038, y: 1490, s: [tx("Tl"), sb("2"), tx("Ba"), sb("2"), tx("Ca"), sb("2"), tx("Cu"), sb("3"), tx("O"), sb("10+δ")], size: F },
    { x: 1038, y: 1533, s: [tx("HgBa"), sb("2"), tx("Ca"), sb("2"), tx("Cu"), sb("3"), tx("O"), sb("10+δ")], size: F },
    { x: 1375, y: 928, s: "electron-doped", size: L },
    { x: 1375, y: 966, s: "single-layer", size: L, italic: true },
    { x: 1437, y: 1021, s: [tx("Pr"), sb("2-x"), tx("Ce"), sb("x"), tx("CuO"), sb("4")], size: F },
    { x: 1437, y: 1067, s: [tx("Nd"), sb("2-x"), tx("Ce"), sb("x"), tx("CuO"), sb("4")], size: F },
    { x: 1412, y: 1256, s: "our data on", size: L, bold: true },
    { x: 1412, y: 1306, s: [tx("YBa"), sb("2"), tx("Cu"), sb("3"), tx("O"), sb("6+y")], size: L, bold: true },
    { x: 1412, y: 1356, s: "microcrystals", size: L, bold: true },
    { x: 1412, y: 1406, s: "under pressure:", size: L, bold: true },
    { x: 1489, y: 1469, s: "sample Y-6.5", size: L },
    { x: 1489, y: 1507, s: "sample Y-6.85", size: L },
    { x: 1489, y: 1544, s: "sample Y-6.9", size: L },
  ];
  items.forEach((t) => drawRich(ctx, t, ox, oy));
  const circ = (x: number, y: number, c: string) => {
    ctx.beginPath();
    ctx.arc(x - ox, y - oy, 14, 0, Math.PI * 2);
    ctx.fillStyle = c;
    ctx.fill();
  };
  const sq = (x: number, y: number, c: string) => {
    ctx.fillStyle = c;
    ctx.fillRect(x - ox - 12.5, y - oy - 12.5, 25, 25);
  };
  circ(984.5, 1002, LGRAY);
  circ(984.5, 1048, ORANGE);
  circ(984.5, 1093, MAGENTA);
  sq(983, 1206, OLIVE);
  sq(983, 1255, GREEN);
  sq(983, 1304, ORANGE_SQ);
  sq(983, 1353, MAGENTA);
  const sM = starImg(MAGENTA, 36, true), sO = starImg(ORANGE, 36, true);
  ctx.drawImage(sM, 993.5 - ox - 18, 1477 - oy - 18);
  ctx.drawImage(sO, 993.5 - ox - 18, 1521 - oy - 18);
  ctx.lineWidth = 5;
  ctx.strokeStyle = RED;
  ctx.beginPath();
  ctx.moveTo(1390.6 - ox - 15, 1008 - oy);
  ctx.lineTo(1390.6 - ox + 15, 1008 - oy);
  ctx.moveTo(1390.6 - ox, 1008 - oy - 15);
  ctx.lineTo(1390.6 - ox, 1008 - oy + 15);
  ctx.stroke();
  ctx.strokeStyle = PINK;
  ctx.beginPath();
  ctx.moveTo(1392 - ox - 15, 1054 - oy - 15);
  ctx.lineTo(1392 - ox + 15, 1054 - oy + 15);
  ctx.moveTo(1392 - ox + 15, 1054 - oy - 15);
  ctx.lineTo(1392 - ox - 15, 1054 - oy + 15);
  ctx.stroke();
  const sample = (y: number, c: string, img: HTMLCanvasElement | null) => {
    ctx.strokeStyle = c;
    ctx.lineWidth = 1.5;
    ctx.beginPath();
    ctx.moveTo(1413 - ox, y - oy);
    ctx.lineTo(1478 - ox, y - oy);
    ctx.stroke();
    if (img) ctx.drawImage(img, 1445 - ox - img.width / 2, y - oy - img.height / 2);
    else {
      ctx.fillStyle = "#e0e0e0";
      ctx.fillRect(1445 - ox - 12, y - oy - 12, 24, 24);
      ctx.lineWidth = 3.5;
      ctx.strokeRect(1445 - ox - 12, y - oy - 12, 24, 24);
    }
  };
  sample(1458, RED, null);
  sample(1496, BLUE, boxXImg(BLUE, 26, 4));
  sample(1533, "#000", boxDotImg("#000", 26, 4));
}

function LegendBox() {
  const ref = useRef<HTMLCanvasElement>(null);
  useEffect(() => {
    const c = ref.current;
    if (!c) return;
    const ctx = c.getContext("2d") as CanvasRenderingContext2D;
    ctx.clearRect(0, 0, c.width, c.height);
    drawLegend(ctx);
  }, []);
  return <canvas ref={ref} width={830} height={750} style={{ position: "absolute", left: 930, top: 830, width: 830, height: 750 }} />;
}

/* ---------------- chart panel ---------------- */
type PanelDef = { id: string; left: number; top: number; w: number; h: number; build: () => any };
const PANELS: PanelDef[] = [
  { id: "a", left: 0, top: 0, w: 830, h: 800, build: buildA },
  { id: "b", left: 840, top: 0, w: 950, h: 830, build: buildB },
  { id: "c", left: 1860, top: 0, w: 904, h: 830, build: buildC },
  { id: "d", left: 0, top: 830, w: 920, h: 851, build: buildD },
  { id: "e", left: 1830, top: 830, w: 934, h: 851, build: buildE },
];

function ChartPanel({ def }: { def: PanelDef }) {
  const ref = useRef<HTMLCanvasElement>(null);
  useEffect(() => {
    if (!ref.current) return;
    const chart = new Chart(ref.current, def.build());
    return () => chart.destroy();
  }, [def]);
  return (
    <div style={{ position: "absolute", left: def.left, top: def.top, width: def.w, height: def.h }}>
      <canvas ref={ref} width={def.w} height={def.h} style={{ width: def.w, height: def.h, display: "block" }} />
    </div>
  );
}

export default function App() {
  return (
    <div style={{ position: "absolute", left: 0, top: 0, width: 2764, height: 1681, overflow: "hidden", background: "#fff" }}>
      {PANELS.map((p) => (
        <ChartPanel key={p.id} def={p} />
      ))}
      <LegendBox />
    </div>
  );
}
